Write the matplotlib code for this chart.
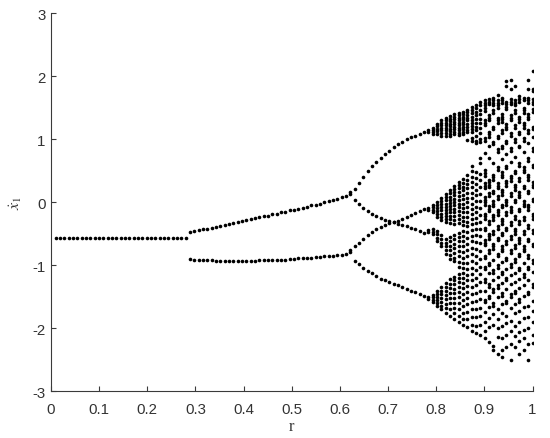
import matplotlib
matplotlib.use("Agg")
import matplotlib.pyplot as plt
import numpy as np

plt.rcParams['mathtext.fontset'] = 'stix'

# ---------------- data ----------------
# period-1 branch
r_p1 = [0.010, 0.019, 0.028, 0.037, 0.046, 0.055, 0.064, 0.073, 0.082, 0.091,
        0.100, 0.109, 0.118, 0.127, 0.136, 0.145, 0.154, 0.163, 0.172, 0.181,
        0.190, 0.199, 0.208, 0.217, 0.226, 0.235, 0.244, 0.253, 0.262, 0.271,
        0.280]
x_p1 = [-0.57, -0.57, -0.57, -0.57, -0.57, -0.57, -0.57, -0.57, -0.57, -0.57,
        -0.57, -0.57, -0.57, -0.57, -0.57, -0.57, -0.57, -0.57, -0.57, -0.57,
        -0.57, -0.57, -0.57, -0.57, -0.57, -0.57, -0.57, -0.57, -0.57, -0.57,
        -0.57]

# period-2 branches
r_p2 = [0.289, 0.298, 0.307, 0.316, 0.325, 0.334, 0.343, 0.352, 0.361, 0.370,
        0.379, 0.388, 0.397, 0.406, 0.415, 0.424, 0.433, 0.442, 0.451, 0.460,
        0.469, 0.478, 0.487, 0.496, 0.505, 0.514, 0.523, 0.532, 0.541, 0.550,
        0.559, 0.568, 0.577, 0.586, 0.595, 0.604, 0.613, 0.622]
x_p2_upper = [-0.47, -0.46, -0.44, -0.43, -0.42, -0.40, -0.39, -0.37, -0.36, -0.34,
              -0.33, -0.31, -0.30, -0.28, -0.27, -0.25, -0.24, -0.22, -0.21, -0.19,
              -0.18, -0.16, -0.15, -0.13, -0.12, -0.10, -0.09, -0.07, -0.05, -0.04,
              -0.02, 0.00, 0.02, 0.04, 0.06, 0.08, 0.10, 0.13]
x_p2_lower = [-0.90, -0.91, -0.91, -0.92, -0.92, -0.92, -0.93, -0.93, -0.93, -0.93,
              -0.93, -0.93, -0.93, -0.93, -0.93, -0.93, -0.92, -0.92, -0.92, -0.92,
              -0.91, -0.91, -0.91, -0.90, -0.90, -0.89, -0.89, -0.88, -0.88, -0.87,
              -0.87, -0.86, -0.86, -0.85, -0.84, -0.83, -0.82, -0.79]
# extra transient dots right at the bifurcation
r_p2_extra = [0.622, 0.622]
x_p2_extra = [0.16, -0.76]

# period-4 branches
r_p4 = [0.631, 0.640, 0.649, 0.658, 0.667, 0.676, 0.685, 0.694, 0.703, 0.712,
        0.721, 0.730, 0.739, 0.748, 0.757, 0.766, 0.775]
x_p4_top = [0.21, 0.30, 0.40, 0.49, 0.57, 0.64, 0.71, 0.77, 0.82, 0.87,
            0.92, 0.96, 1.00, 1.03, 1.06, 1.09, 1.12]
x_p4_mid_down = [0.04, -0.03, -0.09, -0.14, -0.19, -0.22, -0.25, -0.28, -0.30, -0.32,
                 -0.34, -0.36, -0.38, -0.40, -0.42, -0.45, -0.48]
x_p4_mid_up = [-0.70, -0.64, -0.58, -0.52, -0.47, -0.43, -0.39, -0.36, -0.33, -0.31,
               -0.29, -0.26, -0.23, -0.20, -0.17, -0.14, -0.11]
x_p4_bottom = [-0.93, -0.98, -1.04, -1.09, -1.13, -1.17, -1.21, -1.24, -1.27, -1.30,
               -1.32, -1.35, -1.37, -1.40, -1.42, -1.45, -1.48]

# chaotic region: one list of x values per r column
r_chaos = [0.784, 0.793, 0.802, 0.811, 0.820, 0.829, 0.838, 0.847, 0.856, 0.865,
           0.874, 0.883, 0.892, 0.901, 0.910, 0.919, 0.928, 0.937, 0.946, 0.955,
           0.964, 0.973, 0.982, 0.991, 1.000]
x_chaos = [
    [1.15, 1.12, -0.09, -0.13, -0.44, -0.47, -1.50, -1.53],
    [1.18, 1.15, 1.12, 1.09, -0.04, -0.08, -0.12, -0.16, -0.43, -0.47, -0.51,
     -1.47, -1.51, -1.55, -1.58],
    [1.25, 1.21, 1.17, 1.13, 1.09, 0.01, -0.04, -0.09, -0.14, -0.19, -0.24,
     -0.45, -0.50, -0.56, -0.61, -1.40, -1.45, -1.50, -1.55, -1.60, -1.64],
    [1.30, 1.26, 1.22, 1.18, 1.14, 1.10, 1.06, 0.07, 0.02, -0.03, -0.08, -0.13,
     -0.18, -0.23, -0.28, -0.52, -0.58, -0.64, -0.70, -1.34, -1.40, -1.46, -1.52,
     -1.58, -1.64, -1.70],
    [1.34, 1.30, 1.26, 1.22, 1.18, 1.14, 1.10, 1.06, 0.13, 0.08, 0.03, -0.02,
     -0.07, -0.12, -0.17, -0.22, -0.27, -0.32, -0.58, -0.64, -0.70, -0.76, -0.82,
     -1.28, -1.34, -1.40, -1.47, -1.54, -1.61, -1.68, -1.76],
    [1.37, 1.33, 1.29, 1.25, 1.21, 1.17, 1.13, 1.09, 1.06, 0.19, 0.14, 0.09, 0.04,
     -0.01, -0.06, -0.11, -0.16, -0.21, -0.27, -0.33, -0.55, -0.62, -0.69, -0.76,
     -0.84, -0.90, -1.22, -1.29, -1.36, -1.44, -1.52, -1.60, -1.69, -1.80],
    [1.40, 1.36, 1.32, 1.28, 1.24, 1.20, 1.16, 1.12, 1.08, 0.26, 0.21, 0.16, 0.11,
     0.05, 0.00, -0.05, -0.10, -0.16, -0.22, -0.28, -0.34, -0.52, -0.58, -0.66,
     -0.72, -0.80, -0.88, -0.93, -1.18, -1.24, -1.30, -1.37, -1.44, -1.52, -1.60,
     -1.68, -1.76, -1.86],
    [1.42, 1.38, 1.34, 1.30, 1.26, 1.22, 1.18, 1.14, 1.10, 1.07, 0.32, 0.27, 0.22,
     0.16, 0.10, 0.04, -0.02, -0.08, -0.14, -0.20, -0.26, -0.33, -0.48, -0.55,
     -0.62, -0.70, -0.78, -0.86, -0.95, -1.02, -1.14, -1.20, -1.27, -1.35, -1.42,
     -1.50, -1.60, -1.70, -1.80, -1.90],
    [1.44, 1.40, 1.36, 1.32, 1.28, 1.24, 1.20, 1.16, 1.12, 1.09, 0.37, 0.31, 0.25,
     0.19, 0.12, 0.05, -0.02, -0.09, -0.16, -0.23, -0.30, -0.36, -0.45, -0.53,
     -0.61, -0.70, -0.79, -0.88, -0.97, -1.05, -1.12, -1.20, -1.28, -1.36, -1.45,
     -1.55, -1.65, -1.75, -1.85, -1.95],
    [1.47, 1.43, 1.38, 1.34, 1.30, 1.25, 1.20, 1.15, 1.11, 0.99, 0.43, 0.36, 0.29,
     0.22, 0.14, 0.07, 0.00, -0.08, -0.15, -0.23, -0.31, -0.38, -0.47, -0.56,
     -0.66, -0.76, -0.86, -0.96, -1.06, -1.15, -1.24, -1.33, -1.42, -1.52, -1.62,
     -1.74, -1.86, -1.98],
    [1.51, 1.46, 1.41, 1.36, 1.31, 1.26, 1.21, 1.16, 1.12, 1.02, 0.98, 0.58, 0.50,
     0.40, 0.32, 0.24, 0.15, 0.07, -0.02, -0.10, -0.18, -0.27, -0.35, -0.44,
     -0.53, -0.62, -0.72, -0.82, -0.93, -1.04, -1.14, -1.24, -1.35, -1.46, -1.58,
     -1.70, -1.82, -1.95, -2.05],
    [1.55, 1.50, 1.44, 1.38, 1.32, 1.26, 1.20, 1.14, 1.05, 0.97, 0.94, 0.48, 0.38,
     0.29, 0.20, 0.11, 0.02, -0.07, -0.16, -0.25, -0.33, -0.43, -0.52, -0.63,
     -0.74, -0.85, -0.97, -1.08, -1.20, -1.32, -1.44, -1.56, -1.69, -1.82, -1.96,
     -2.08],
    [1.60, 1.54, 1.47, 1.40, 1.33, 1.26, 1.18, 1.10, 1.00, 0.95, 0.70, 0.62, 0.45,
     0.35, 0.24, 0.13, 0.02, -0.09, -0.20, -0.31, -0.42, -0.53, -0.65, -0.77,
     -0.90, -1.02, -1.14, -1.27, -1.40, -1.53, -1.67, -1.81, -1.95, -2.10],
    [1.62, 1.58, 1.54, 1.49, 1.45, 1.30, 1.26, 1.22, 1.02, 0.98, 0.78, 0.52, 0.47,
     0.42, 0.30, 0.26, 0.22, 0.08, 0.04, 0.00, -0.04, -0.18, -0.22, -0.26, -0.40,
     -0.44, -0.60, -0.64, -0.68, -0.85, -0.89, -1.02, -1.06, -1.22, -1.26, -1.40,
     -1.55, -1.59, -1.74, -1.90, -2.05, -2.15],
    [1.64, 1.60, 1.56, 1.38, 1.34, 1.30, 1.12, 1.08, 1.04, 0.90, 0.70, 0.36, 0.32,
     0.28, 0.24, 0.14, 0.10, -0.06, -0.10, -0.14, -0.30, -0.34, -0.50, -0.54,
     -0.58, -0.76, -0.80, -0.96, -1.00, -1.12, -1.30, -1.34, -1.48, -1.52, -1.66,
     -1.84, -1.98, -2.22],
    [1.66, 1.62, 1.58, 1.54, 1.46, 1.42, 1.20, 1.16, 0.95, 0.92, 0.62, 0.44, 0.40,
     0.36, 0.18, 0.14, 0.02, -0.02, -0.06, -0.20, -0.24, -0.28, -0.46, -0.50,
     -0.66, -0.70, -0.74, -0.92, -1.08, -1.12, -1.24, -1.38, -1.42, -1.60, -1.64,
     -1.78, -1.95, -2.28, -2.35],
    [1.70, 1.62, 1.58, 1.54, 1.50, 1.34, 1.30, 1.26, 1.06, 1.02, 0.84, 0.80, 0.56,
     0.52, 0.30, 0.26, 0.22, 0.10, 0.06, -0.12, -0.16, -0.20, -0.38, -0.42, -0.56,
     -0.60, -0.82, -0.86, -1.00, -1.04, -1.18, -1.32, -1.36, -1.50, -1.70, -1.85,
     -2.00, -2.14, -2.40],
    [1.66, 1.62, 1.58, 1.40, 1.36, 1.32, 1.28, 1.14, 1.10, 0.90, 0.86, 0.68, 0.48,
     0.44, 0.40, 0.20, 0.16, 0.12, -0.04, -0.08, -0.26, -0.30, -0.34, -0.48, -0.52,
     -0.70, -0.74, -0.78, -0.94, -1.10, -1.14, -1.28, -1.44, -1.48, -1.62, -1.76,
     -1.96, -2.15, -2.35, -2.45],
    [1.93, 1.84, 1.60, 1.56, 1.52, 1.48, 1.24, 1.20, 1.16, 0.98, 0.94, 0.76, 0.58,
     0.54, 0.34, 0.30, 0.26, 0.04, 0.00, -0.04, -0.16, -0.20, -0.40, -0.44, -0.62,
     -0.66, -0.88, -0.92, -1.06, -1.20, -1.24, -1.38, -1.56, -1.60, -1.80, -1.92,
     -2.10, -2.30],
    [1.94, 1.80, 1.64, 1.60, 1.56, 1.38, 1.34, 1.30, 1.10, 1.06, 0.86, 0.82, 0.64,
     0.42, 0.38, 0.34, 0.14, 0.10, -0.08, -0.12, -0.16, -0.32, -0.36, -0.54, -0.58,
     -0.76, -0.80, -0.98, -1.02, -1.16, -1.30, -1.46, -1.50, -1.68, -1.88, -2.04,
     -2.25, -2.50],
    [1.84, 1.62, 1.58, 1.54, 1.46, 1.42, 1.22, 1.18, 1.00, 0.96, 0.72, 0.50, 0.46,
     0.28, 0.24, 0.20, 0.04, 0.00, -0.22, -0.26, -0.42, -0.46, -0.50, -0.68, -0.72,
     -0.90, -0.94, -1.12, -1.26, -1.40, -1.44, -1.62, -1.76, -1.96, -2.12, -2.30],
    [1.68, 1.64, 1.60, 1.36, 1.32, 1.28, 1.12, 1.08, 0.90, 0.88, 0.62, 0.58, 0.38,
     0.34, 0.16, 0.12, 0.08, -0.10, -0.14, -0.30, -0.34, -0.56, -0.60, -0.64,
     -0.82, -0.86, -1.04, -1.08, -1.22, -1.36, -1.54, -1.58, -1.72, -1.90, -2.06,
     -2.20, -2.40],
    [1.66, 1.62, 1.50, 1.46, 1.42, 1.26, 1.22, 1.18, 1.02, 0.98, 0.80, 0.56, 0.52,
     0.48, 0.26, 0.22, 0.02, -0.02, -0.06, -0.24, -0.28, -0.46, -0.50, -0.70,
     -0.74, -0.78, -0.96, -1.14, -1.18, -1.32, -1.48, -1.66, -1.84, -2.02, -2.16,
     -2.34],
    [1.94, 1.80, 1.66, 1.62, 1.58, 1.40, 1.36, 1.32, 1.14, 1.10, 0.94, 0.70, 0.66,
     0.44, 0.40, 0.36, 0.18, 0.14, -0.04, -0.08, -0.12, -0.36, -0.40, -0.58, -0.62,
     -0.84, -0.88, -1.02, -1.06, -1.24, -1.42, -1.46, -1.64, -1.82, -2.00, -2.25,
     -2.50],
    [2.09, 1.80, 1.76, 1.64, 1.60, 1.56, 1.48, 1.44, 1.20, 1.16, 1.04, 0.86, 0.82,
     0.60, 0.56, 0.32, 0.28, 0.24, 0.06, 0.02, -0.18, -0.22, -0.26, -0.44, -0.48,
     -0.66, -0.70, -0.92, -0.96, -1.10, -1.30, -1.34, -1.56, -1.72, -1.90, -2.10,
     -2.24],
]

x_ticks = [0, 0.1, 0.2, 0.3, 0.4, 0.5, 0.6, 0.7, 0.8, 0.9, 1]
x_tick_labels = ["0", "0.1", "0.2", "0.3", "0.4", "0.5", "0.6", "0.7", "0.8", "0.9", "1"]
y_ticks = [-3, -2, -1, 0, 1, 2, 3]
y_tick_labels = ["-3", "-2", "-1", "0", "1", "2", "3"]

# ---------------- assemble point cloud ----------------
all_r = list(r_p1) + list(r_p2) + list(r_p2) + list(r_p2_extra)
all_x = list(x_p1) + list(x_p2_upper) + list(x_p2_lower) + list(x_p2_extra)
for branch in (x_p4_top, x_p4_mid_down, x_p4_mid_up, x_p4_bottom):
    all_r += list(r_p4)
    all_x += list(branch)
for rv, col in zip(r_chaos, x_chaos):
    all_r += [rv] * len(col)
    all_x += list(col)

# ---------------- figure ----------------
fig = plt.figure(figsize=(5.5, 4.39), dpi=100)
ax = fig.add_axes([51 / 550, 1 - 392.3 / 439, (532.5 - 51) / 550, (392.3 - 14.3) / 439])

ax.plot(all_r, all_x, linestyle='none', marker='o', markersize=2.6,
        markerfacecolor='black', markeredgecolor='none', markeredgewidth=0,
        snap=False)

ax.set_xlim(0, 1)
ax.set_ylim(-3, 3)
ax.spines['top'].set_visible(False)
ax.spines['right'].set_visible(False)
for s in ('left', 'bottom'):
    ax.spines[s].set_color('#3a3a3a')
    ax.spines[s].set_linewidth(0.8)

tick_font = dict(family='Liberation Sans', size=10.8, color='#333333')
ax.set_xticks(x_ticks)
ax.set_xticklabels(x_tick_labels, **tick_font)
ax.set_yticks(y_ticks)
ax.set_yticklabels(y_tick_labels, **tick_font)
ax.tick_params(axis='both', direction='in', length=3.4, width=0.8, color='#3a3a3a')
ax.tick_params(axis='x', pad=8)
ax.tick_params(axis='y', pad=4)

ax.set_xlabel('r', family='Liberation Serif', size=12, color='#333333', labelpad=1)
ax.set_ylabel(r'$\dot{x}_1$', size=11.5, color='#333333', labelpad=6)

fig.savefig('out.png', dpi=100)
